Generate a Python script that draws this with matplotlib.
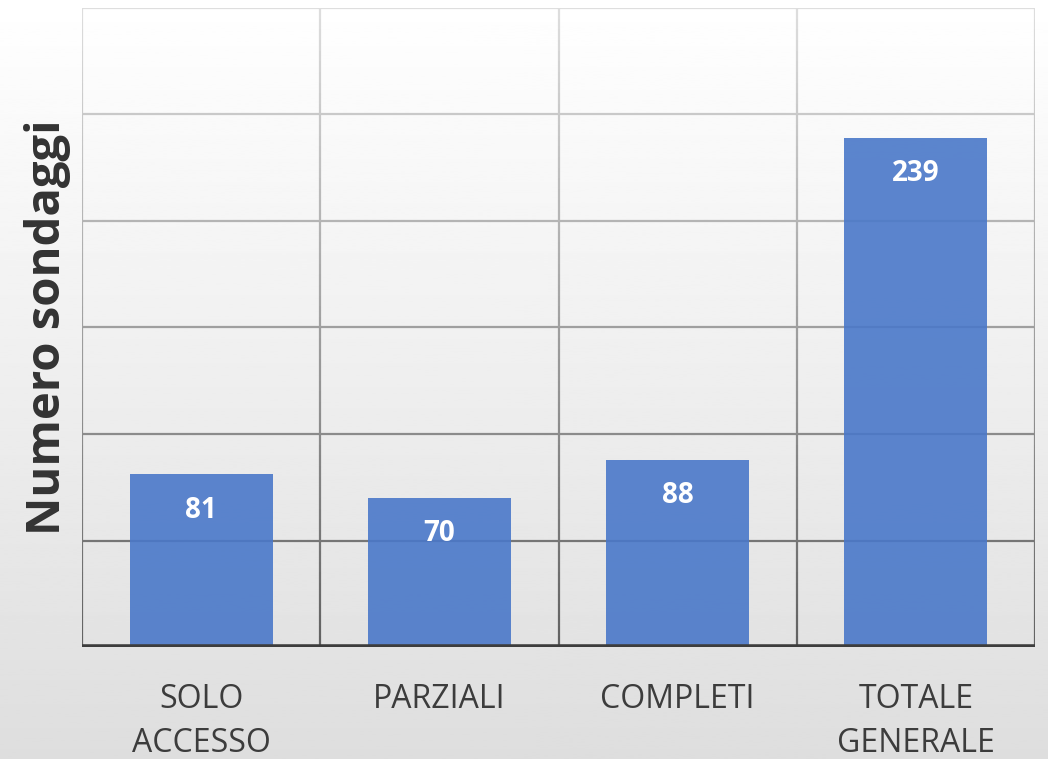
import numpy as np
import matplotlib
matplotlib.use("Agg")
import matplotlib.pyplot as plt

# chart data
categories = ["SOLO\nACCESSO", "PARZIALI", "COMPLETI", "TOTALE\nGENERALE"]
values = [81, 70, 88, 239]
grid_levels = [50, 100, 150, 200, 250]
y_max = 300

plt.rcParams['font.family'] = ['Open Sans', 'DejaVu Sans']

W, H = 1048, 759
fig = plt.figure(figsize=(W / 100, H / 100), dpi=100)

# soft vertical gradient behind everything
bg = fig.add_axes([0, 0, 1, 1], zorder=0)
grad = np.linspace(1.0, 0.87, 256).reshape(-1, 1)
bg.imshow(grad, cmap='gray', vmin=0, vmax=1, aspect='auto', extent=[0, 1, 0, 1])
bg.axis('off')

left, right, top, bottom = 82, 1035, 8, 647
ax = fig.add_axes([left / W, 1 - bottom / H, (right - left) / W, (bottom - top) / H], zorder=1)
ax.patch.set_alpha(0)
ax.set_xlim(-0.5, len(categories) - 0.5)
ax.set_ylim(0, y_max)


def line_gray(y):
    # grid lines get darker towards the base
    t = y / y_max
    g = 0.38 + 0.49 * t
    return (g, g, g)


# horizontal grid
for lv in grid_levels + [y_max]:
    ax.axhline(lv, color=line_gray(lv), lw=1.6, zorder=1)

# vertical separators, drawn in short pieces so the shade follows the gradient
xs = np.arange(len(categories) + 1) - 0.5
ys = np.linspace(0, y_max, 61)
for x in xs:
    for y0, y1 in zip(ys[:-1], ys[1:]):
        ax.plot([x, x], [y0, y1], color=line_gray((y0 + y1) / 2), lw=1.6,
                solid_capstyle='butt', zorder=1)

bars = ax.bar(range(len(categories)), values, width=0.6, color='#4a78c9', alpha=0.9,
              edgecolor='none', zorder=2)
for b, v in zip(bars, values):
    ax.text(b.get_x() + b.get_width() / 2, v - 10, str(v), ha='center', va='top',
            color='white', fontsize=20, fontweight='bold', zorder=3)

ax.axhline(0, color='#3d3d3d', lw=4, zorder=4)

for s in ax.spines.values():
    s.set_visible(False)
ax.set_yticks([])
ax.set_xticks(range(len(categories)))
ax.set_xticklabels(categories, fontsize=23, color='#3c3c3c', linespacing=1.45)
ax.tick_params(axis='x', length=0, pad=26)
ax.set_ylabel("Numero sondaggi", fontsize=34, fontweight='bold', color='#333333', labelpad=8)

fig.savefig("out.png", dpi=100)
